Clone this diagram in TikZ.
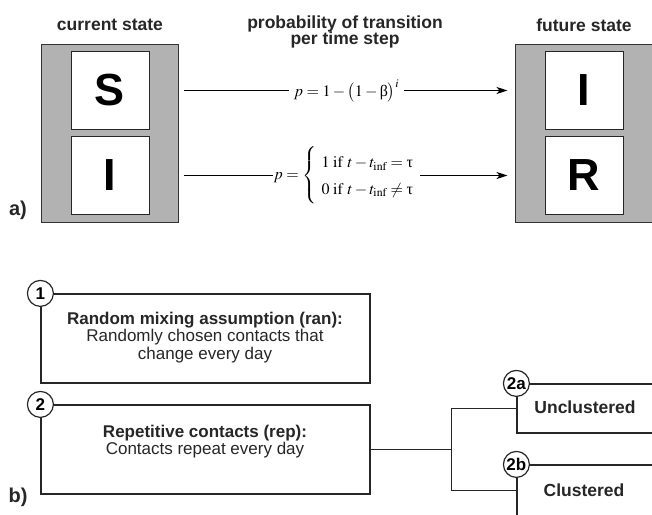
\documentclass[tikz,border=0pt]{standalone}
\usepackage{mathptmx}
\usepackage[no-math]{fontspec}
\setmainfont{Liberation Sans}
\newfontfamily\grkserif{Liberation Serif}
\newcommand{\upb}{\mbox{\grkserif β}}
\newcommand{\upt}{\mbox{\grkserif τ}}
\usetikzlibrary{arrows.meta,calc}
\tikzset{
  graybox/.style={draw=black!80, line width=1pt, fill=black!30, inner sep=0pt},
  whitebox/.style={draw=black!85, line width=1pt, fill=white, minimum size=78pt, inner sep=0pt,
    font=\fontsize{45}{45}\selectfont\bfseries},
  titletext/.style={font=\fontsize{17.5}{17}\selectfont\bfseries, align=center, text=black!85},
  arr/.style={line width=1.8pt, -{Stealth[length=11pt,width=7pt,inset=3pt]}},
  formula/.style={fill=white, inner xsep=5pt, inner ysep=1pt, font=\fontsize{16}{19}\selectfont},
  pbox/.style={draw=black!85, line width=1.2pt, inner sep=0pt},
  bodytext/.style={font=\fontsize{17}{17.5}\selectfont, align=center, text=black!85},
  num/.style={circle, draw=black!85, line width=1.2pt, fill=white, minimum size=26pt, inner sep=0pt,
    font=\fontsize{17}{17}\selectfont\bfseries},
  link/.style={draw=black!85, line width=1.2pt},
  panel/.style={font=\fontsize{20}{20}\selectfont\bfseries, text=black!85}
}
\begin{document}
\begin{tikzpicture}[x=1pt,y=-1pt]
\useasboundingbox (0,0) rectangle (652,514);
\clip (0,0) rectangle (652,514);

% ---- panel a ----
\node[titletext] (tcur) at (110,25) {current state};
\node[titletext] (tprob) at (345,32) {probability of transition\\[-1pt]per time step};
\node[titletext] (tfut) at (584,25) {future state};

\node[graybox, minimum width=137pt, minimum height=178pt] (cur) at (109.5,133) {};
\node[graybox, minimum width=138pt, minimum height=178pt] (fut) at (584,133) {};

\node[whitebox] (S) at (110,90.5) {S};
\node[whitebox] (I) at (110,175.5) {I};
\node[whitebox] (fI) at (584,90.5) {I};
\node[whitebox] (R) at (584,175.5) {R};

\draw[arr, shorten <=5pt, shorten >=7pt] (cur.east |- S.east) -- node[formula] (f1)
  {$p=1-\bigl(1-\upb\bigr)^{i}$} (fut.west |- fI.west);
\draw[arr, shorten <=5pt, shorten >=7pt] (cur.east |- I.east) -- node[formula, inner xsep=1pt] (f2)
  {$p=\left\{\renewcommand{\arraystretch}{1.4}\begin{array}{l}
     1\;\mathrm{if}\ t-t_{\mathrm{inf}}=\upt\\
     0\;\mathrm{if}\ t-t_{\mathrm{inf}}\neq\upt
   \end{array}\right.$} (fut.west |- R.west);

\node[panel] (pa) at (18,210) {a)};

% ---- panel b ----
\node[pbox, minimum width=329pt, minimum height=89pt] (b1) at (205.5,338.5) {};
\node[bodytext] (t1) at (205,337.5) {\textbf{Random mixing assumption (ran):}\\Randomly chosen contacts that\\change every day};
\node[num] (n1) at (b1.north west) {1};

\node[pbox, minimum width=329pt, minimum height=89pt] (b2) at (205.5,449.5) {};
\node[bodytext] (t2) at (205,441.5) {\textbf{Repetitive contacts (rep):}\\Contacts repeat every day};
\node[num] (n2) at (b2.north west) {2};

\node[pbox, minimum width=183pt, minimum height=49pt] (b2a) at (608.5,408.5) {};
\node[pbox, minimum width=183pt, minimum height=75pt] (b2b) at (608.5,502.5) {};

\coordinate (fork) at ($(b2.east)+(81,0)$);
\coordinate (b2bin) at ($(b2b.north west)+(0,26)$);
\draw[link] (b2.east) -- (fork);
\draw[link] (b2a.west) -| (fork) |- (b2bin);

\node[num] (n2a) at (b2a.north west) {2a};
\node[num] (n2b) at (b2b.north west) {2b};

\node[titletext] (tu) at (585,407) {Unclustered};
\node[titletext] (tc) at (584,490) {Clustered};

\node[panel] (pb) at (18,497) {b)};
\end{tikzpicture}
\end{document}
